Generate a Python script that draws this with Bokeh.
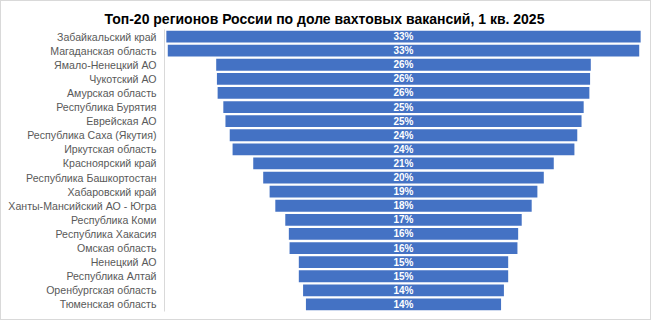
from bokeh.plotting import figure
from bokeh.models import ColumnDataSource, FactorRange, Range1d
from bokeh.core.properties import value
from bokeh.embed import file_html
from bokeh.resources import INLINE

regions = [
    "Забайкальский край", "Магаданская область", "Ямало-Ненецкий АО", "Чукотский АО",
    "Амурская область", "Республика Бурятия", "Еврейская АО", "Республика Саха (Якутия)",
    "Иркутская область", "Красноярский край", "Республика Башкортостан", "Хабаровский край",
    "Ханты-Мансийский АО - Югра", "Республика Коми", "Республика Хакасия", "Омская область",
    "Ненецкий АО", "Республика Алтай", "Оренбургская область", "Тюменская область",
]
shares = [33.3, 33.1, 26.3, 26.2, 26.1, 25.3, 25.0, 24.4, 24.0, 21.1,
          19.7, 18.8, 18.0, 16.6, 16.1, 16.0, 14.7, 14.7, 14.1, 13.7]
title_text = "Топ-20 регионов России  по доле вахтовых вакансий, 1 кв. 2025"

src = ColumnDataSource(dict(
    region=regions,
    left=[-v / 2 for v in shares],
    right=[v / 2 for v in shares],
    zero=[0] * len(shares),
    label=[f"{round(v)}%" for v in shares],
))

p = figure(width=651, height=320, output_backend="svg", toolbar_location=None,
           y_range=FactorRange(*reversed(regions), range_padding=0),
           x_range=Range1d(-16.78, 16.78),
           min_border_left=163, min_border_right=10, min_border_top=28, min_border_bottom=10)

p.hbar(y="region", left="left", right="right", height=0.84, source=src,
       fill_color="#4472C4", line_color=None)
p.text(x="zero", y="region", text="label", source=src, text_color="white",
       text_font=value("Liberation Sans"), text_font_style="bold", text_font_size="10px",
       text_align="center", text_baseline="middle")

p.title.text = title_text
p.title.align = "left"
p.title.offset = -60
p.title.text_font = "Liberation Sans"
p.title.text_font_size = "14px"
p.title.text_font_style = "bold"
p.title.text_color = "black"
p.title.standoff = 6

p.xaxis.visible = False
p.xgrid.visible = False
p.ygrid.visible = False
p.outline_line_color = None
p.yaxis.axis_line_color = "#d9d9d9"
p.yaxis.major_tick_line_color = None
p.yaxis.minor_tick_line_color = None
p.yaxis.major_tick_out = 0
p.yaxis.major_tick_in = 0
p.yaxis.major_label_text_color = "#595959"
p.yaxis.major_label_text_font = "Liberation Sans"
p.yaxis.major_label_text_font_size = "10.6px"
p.yaxis.major_label_standoff = 8
p.styles = {"border": "1px solid #d9d9d9", "box-sizing": "border-box"}

open("out.html", "w").write(file_html(p, INLINE))
